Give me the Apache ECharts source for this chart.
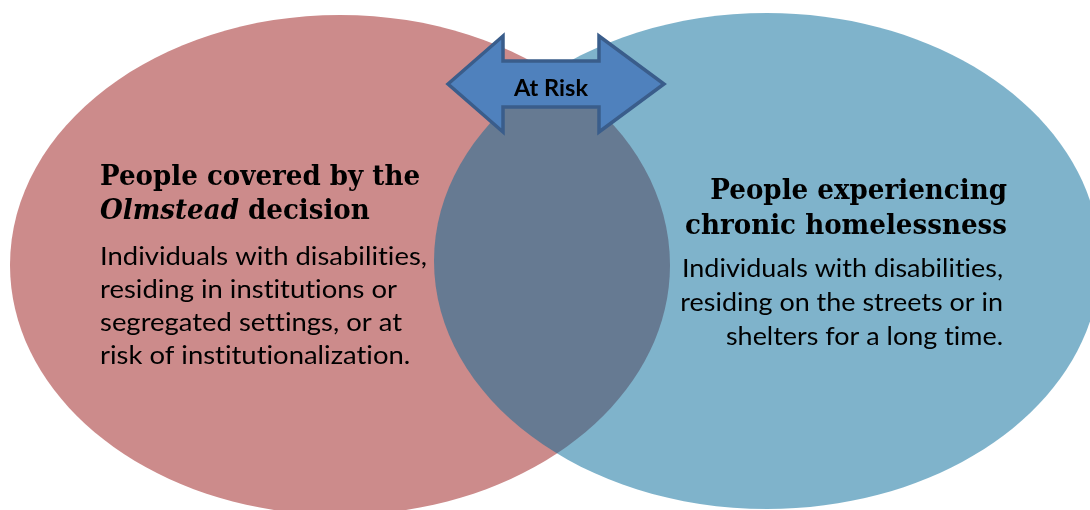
<!DOCTYPE html>
<html>
<head>
<meta charset="utf-8">
<script src="https://cdn.jsdelivr.net/npm/echarts@6/dist/echarts.min.js"></script>
<style>
html,body{margin:0;padding:0;background:#fff;}
#chart{width:1090px;height:510px;}
</style>
</head>
<body>
<div id="chart"></div>
<script>
// ---- content (Venn diagram: two sets and their overlap) ----
var setNames = ["People covered by the", "People experiencing"];
var setNames2 = [["Olmstead", " decision"], ["chronic homelessness"]];
var setDescLeft = ["Individuals with disabilities,", "residing in institutions or", "segregated settings, or at", "risk of institutionalization."];
var setDescRight = ["Individuals with disabilities,", "residing on the streets or in", "shelters for a long time."];
var overlapLabel = "At Risk";

// render text without typographic ligatures (e.g. Lato's "ti")
(function () {
  var P = CanvasRenderingContext2D.prototype;
  ['fillText', 'strokeText', 'measureText'].forEach(function (k) {
    var orig = P[k];
    P[k] = function () {
      try { if (this.textRendering !== 'optimizeSpeed') this.textRendering = 'optimizeSpeed'; } catch (e) {}
      return orig.apply(this, arguments);
    };
  });
})();

var chart = echarts.init(document.getElementById('chart'), null, {renderer: 'canvas'});

var HEAD_FONT = '"DejaVu Serif", serif';
var BODY_FONT = 'Lato, "Open Sans", sans-serif';
var headSize = 28, bodySize = 25, riskSize = 22;

var mctx = document.createElement('canvas').getContext('2d');
function fontStr(size, font, weight, style) {
  return (style || 'normal') + ' ' + (weight || 'normal') + ' ' + size + 'px ' + font;
}
function measure(text, f) { mctx.font = f; return mctx.measureText(text).width; }

function txt(text, x, y, align, f, sx) {
  return {
    type: 'text', x: x, y: y, z: 10, scaleX: sx || 1,
    style: {text: text, fill: '#000', font: f, align: align, verticalAlign: 'middle'}
  };
}

var elements = [];
elements.push({type: 'ellipse', z: 1, shape: {cx: 340, cy: 265, rx: 330, ry: 250}, style: {fill: 'rgb(204,139,139)'}});
elements.push({type: 'ellipse', z: 2, shape: {cx: 767, cy: 261, rx: 333, ry: 248}, style: {fill: 'rgba(4,106,153,0.51)'}});
elements.push({type: 'polygon', z: 5, shape: {points: [
  [448,84],[503,36],[503,61],[599,61],[599,36],[664,84],[599,132],[599,107],[503,107],[503,132]
]}, style: {fill: '#4F81BD', stroke: '#3A5D8B', lineWidth: 3.5, lineJoin: 'miter'}});
var riskF = fontStr(riskSize, BODY_FONT, 'bold');
elements.push(txt(overlapLabel, 551, 89, 'center', riskF, 74 / measure(overlapLabel, riskF)));

var headF = fontStr(headSize, HEAD_FONT, 'bold');
var bodyF = fontStr(bodySize, BODY_FONT);
var hOff = 0.29 * headSize, bOff = 0.34 * bodySize;

// left heading
var lHeadSx = 320 / measure(setNames[0], headF);
var lb = [186, 220];
elements.push(txt(setNames[0], 100, lb[0] - hOff, 'left', headF, lHeadSx));
elements.push({
  type: 'text', x: 100, y: lb[1] - hOff, z: 10, scaleX: lHeadSx,
  style: {
    rich: {
      i: {fontFamily: HEAD_FONT, fontSize: headSize, fontWeight: 'bold', fontStyle: 'italic', fill: '#000'},
      b: {fontFamily: HEAD_FONT, fontSize: headSize, fontWeight: 'bold', fill: '#000'}
    },
    text: '{i|' + setNames2[0][0] + '}{b|' + setNames2[0][1] + '}',
    align: 'left', verticalAlign: 'middle'
  }
});
var lBodySx = 327 / measure(setDescLeft[0], bodyF);
var lbb = [265, 298, 331, 364];
setDescLeft.forEach(function (s, i) {
  elements.push(txt(s, 100, lbb[i] - bOff, 'left', bodyF, lBodySx));
});

// right heading
var rHeadSx = 322 / measure(setNames2[1][0], headF);
var rb = [200, 235];
elements.push(txt(setNames[1], 1007, rb[0] - hOff, 'right', headF, rHeadSx));
elements.push(txt(setNames2[1][0], 1007, rb[1] - hOff, 'right', headF, rHeadSx));
var rBodySx = 321 / measure(setDescRight[0], bodyF);
var rbb = [277, 311, 345];
setDescRight.forEach(function (s, i) {
  elements.push(txt(s, 1003, rbb[i] - bOff, 'right', bodyF, rBodySx));
});

chart.setOption({
  animation: false,
  backgroundColor: '#fff',
  graphic: {elements: elements}
});
</script>
</body>
</html>
